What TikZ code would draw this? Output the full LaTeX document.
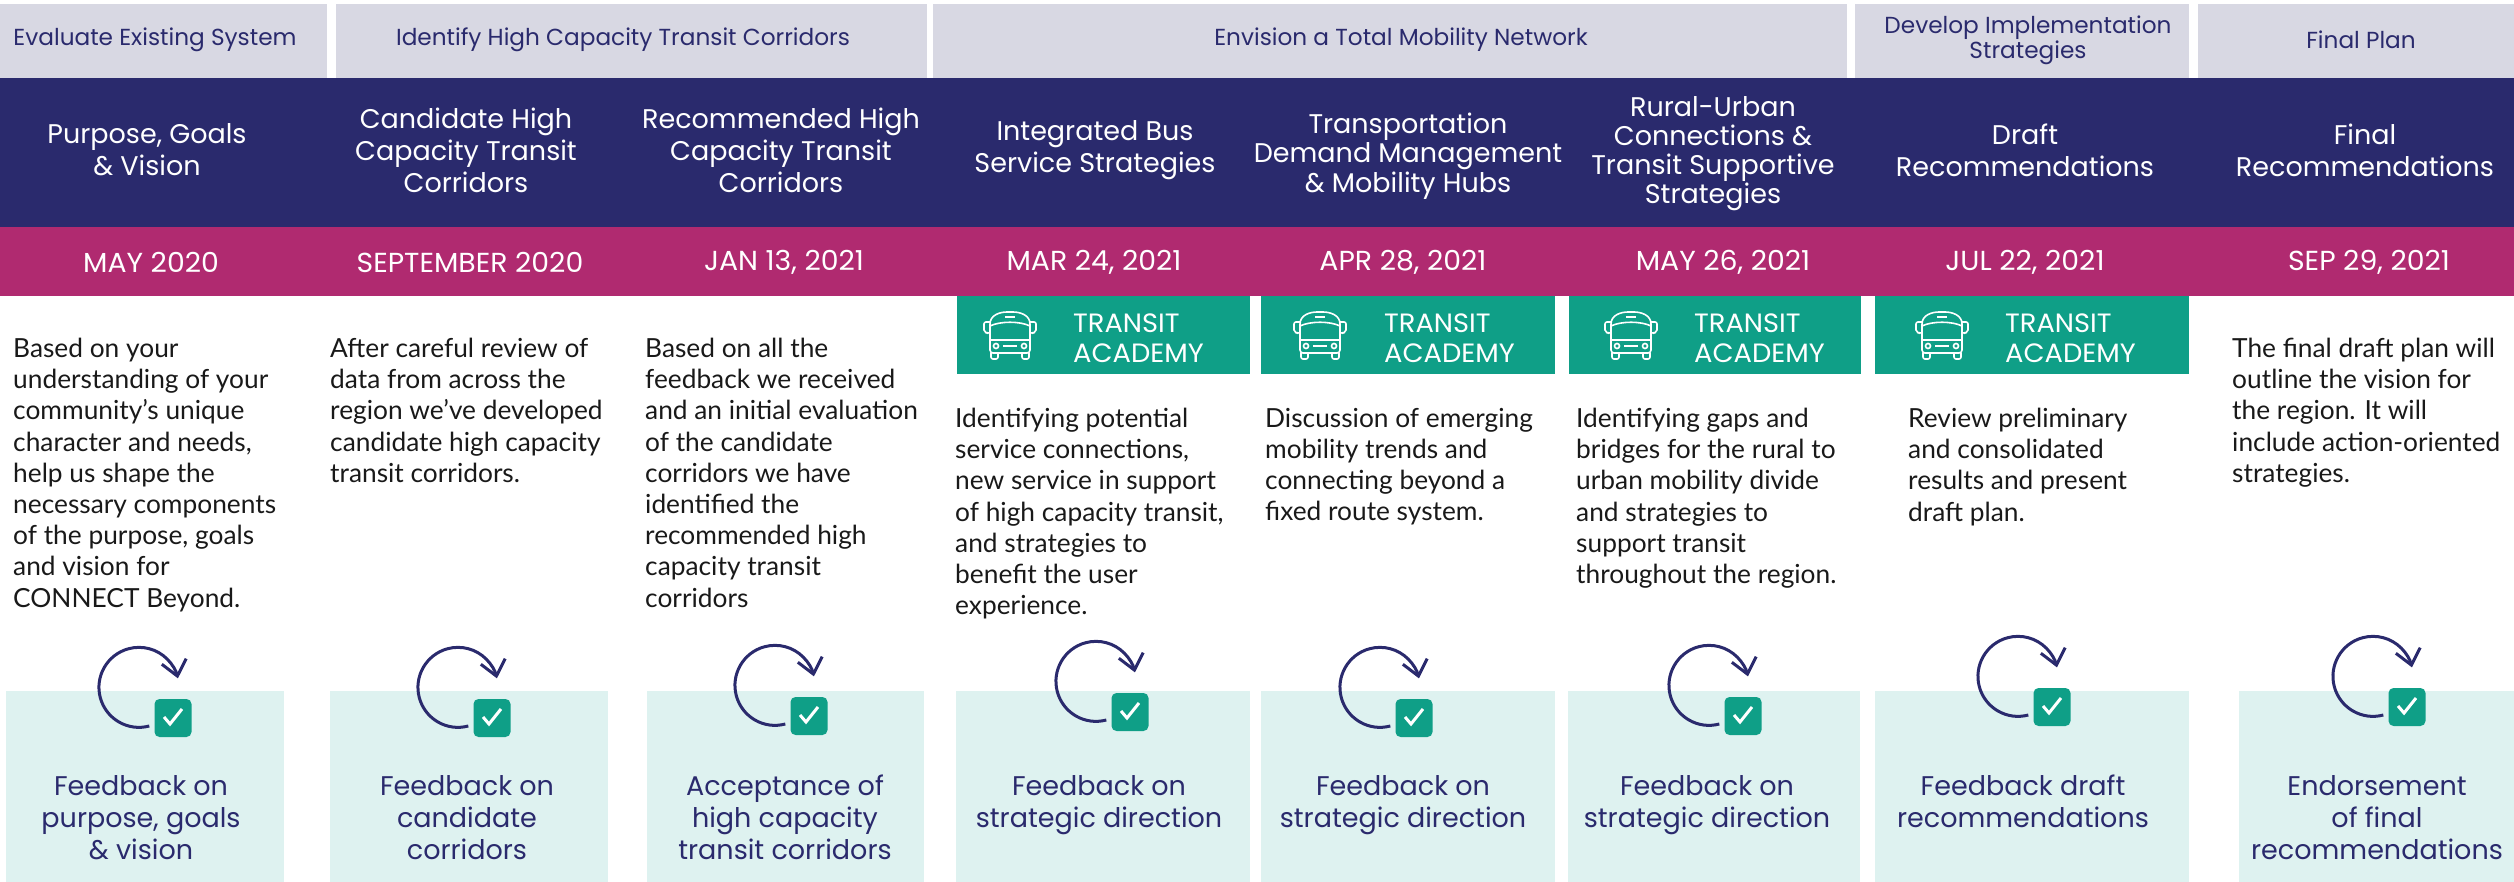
\documentclass[tikz,border=0pt]{standalone}
\usepackage{fontspec}
\setmainfont{Lato}
\newfontfamily\headfont{Poppins}
\newfontfamily\capsfont[FakeStretch=1.03]{Poppins}
\usetikzlibrary{arrows.meta}
\definecolor{navyband}{HTML}{2A2A6D}
\definecolor{magentaband}{HTML}{B02A70}
\definecolor{academygreen}{HTML}{0F9F87}
\definecolor{feedbackteal}{HTML}{DEF2F0}
\definecolor{phasegray}{HTML}{D8D8E3}
\tikzset{
    phasebox/.style={fill=phasegray,anchor=north west,minimum height=74pt,inner sep=0pt},
    phasetext/.style={text=navyband,inner sep=0pt,align=center,font=\headfont\fontsize{23.2}{23}\selectfont},
    topictext/.style={text=white,align=center,inner sep=0pt,font=\headfont\fontsize{27}{32}\selectfont},
    datetext/.style={text=white,inner sep=0pt,font=\capsfont\fontsize{27.5}{30}\selectfont},
    academybox/.style={fill=academygreen,anchor=north west,minimum height=78pt,inner sep=0pt},
    academytext/.style={text=white,anchor=west,inner sep=0pt,align=left,font=\capsfont\fontsize{26.5}{30}\selectfont},
    bodytext/.style={anchor=north west,inner sep=0pt,align=left,text=black!90,font=\fontsize{26.3}{31.2}\selectfont},
    feedbackbox/.style={fill=feedbackteal,anchor=north west,minimum height=191pt,inner sep=0pt},
    feedbacktext/.style={text=navyband,anchor=north,inner sep=0pt,align=center,font=\headfont\fontsize{27}{32}\selectfont},
    checkbox/.style={fill=academygreen,rounded corners=5pt,minimum width=37pt,minimum height=38pt,inner sep=0pt},
    looparrow/.style={draw=navyband,line width=3pt,-{Straight Barb[length=15pt,width=25pt,line width=3pt]}},
    businc/.style={draw=white,line width=1.6pt}
}
\newcommand{\BusIcon}[2]{%
    \begin{scope}[shift={(#1,#2)}]
        \draw[businc,rounded corners=3pt] (-20,18) -- (-20,-8) .. controls (-20,-20) and (-10,-23) .. (0,-23) .. controls (10,-23) and (20,-20) .. (20,-8) -- (20,18) -- cycle;
        \draw[businc] (-20,5) -- (20,5);
        \draw[businc] (-20,-9) .. controls (-10,-14) and (10,-14) .. (20,-9);
        \draw[businc] (-5,-18) -- (5,-18);
        \draw[businc] (-7,11) -- (7,11);
        \draw[businc] (-14,11) circle (2.5);
        \draw[businc] (14,11) circle (2.5);
        \draw[businc,rounded corners=2pt] (-20,-13) -- (-26,-13) -- (-26,-3) -- (-23,-2) -- (-20,-2);
        \draw[businc,rounded corners=2pt] (20,-13) -- (26,-13) -- (26,-3) -- (23,-2) -- (20,-2);
        \draw[businc,rounded corners=2pt] (-19,18) -- (-19,24) -- (-12,24) -- (-12,18);
        \draw[businc,rounded corners=2pt] (19,18) -- (19,24) -- (12,24) -- (12,18);
    \end{scope}%
}
\begin{document}
\begin{tikzpicture}[x=1pt,y=-1pt]
    \useasboundingbox (0,0) rectangle (2514,882);
    % phases
    \foreach \px/\pw/\nm in {0/327/A,336/591/B,933/914/C,1855/334/D,2198/316/E}{
        \node[phasebox,minimum width=\pw pt] (phase\nm) at (\px,4) {};
    }
    \node[phasetext] (phasetextA) at (155,40) {Evaluate Existing System};
    \node[phasetext] (phasetextB) at (623,40) {Identify High Capacity Transit Corridors};
    \node[phasetext] (phasetextC) at (1401,40) {Envision a Total Mobility Network};
    \node[phasetext] (phasetextD) at (2028,40) {Develop Implementation\\Strategies};
    \node[phasetext] (phasetextE) at (2361,40) {Final Plan};
    % bands
    \fill[navyband] (0,78) rectangle (2514,227);
    \fill[magentaband] (0,227) rectangle (2514,296);
    \node[topictext] (topicA) at (147,150) {Purpose, Goals\\\& Vision};
    \node[topictext] (topicB) at (466,150) {Candidate High\\Capacity Transit\\Corridors};
    \node[topictext] (topicC) at (781,150) {Recommended High\\Capacity Transit\\Corridors};
    \node[topictext] (topicD) at (1095,150) {Integrated Bus\\Service Strategies};
    \node[topictext,font=\headfont\fontsize{27}{29.5}\selectfont] (topicE) at (1408,156) {Transportation\\Demand Management\\\& Mobility Hubs};
    \node[topictext,font=\headfont\fontsize{27}{29}\selectfont] (topicF) at (1713,154) {Rural-Urban\\Connections \&\\Transit Supportive\\Strategies};
    \node[topictext] (topicG) at (2025,150) {Draft\\Recommendations};
    \node[topictext] (topicH) at (2365,150) {Final\\Recommendations};
    \node[datetext] (dateA) at (151,262) {MAY 2020};
    \node[datetext] (dateB) at (470,262) {SEPTEMBER 2020};
    \node[datetext] (dateC) at (784,262) {JAN 13, 2021};
    \node[datetext] (dateD) at (1094,262) {MAR 24, 2021};
    \node[datetext] (dateE) at (1403,262) {APR 28, 2021};
    \node[datetext] (dateF) at (1723,262) {MAY 26, 2021};
    \node[datetext] (dateG) at (2025,262) {JUL 22, 2021};
    \node[datetext] (dateH) at (2369,262) {SEP 29, 2021};
    % transit academy
    \foreach \ax/\aw/\bx/\tx/\nm in {957/293/1010/1073/D,1261/294/1320/1384/E,1569/292/1631/1694/F,1875/314/1942/2005/G}{
        \node[academybox,minimum width=\aw pt] (academy\nm) at (\ax,296) {};
        \BusIcon{\bx}{335}
        \node[academytext] (academytext\nm) at (\tx,338) {TRANSIT\\ACADEMY};
    }
    % descriptions
    \node[bodytext] (bodyA) at (13,338) {Based on your\\understanding of your\\community’s unique\\character and needs,\\help us shape the\\necessary components\\of the purpose, goals\\and vision for\\CONNECT Beyond.};
    \node[bodytext] (bodyB) at (330,338) {After careful review of\\data from across the\\region we’ve developed\\candidate high capacity\\transit corridors.};
    \node[bodytext] (bodyC) at (645,338) {Based on all the\\feedback we received\\and an initial evaluation\\of the candidate\\corridors we have\\identified the\\recommended high\\capacity transit\\corridors};
    \node[bodytext] (bodyD) at (955,408) {Identifying potential\\service connections,\\new service in support\\of high capacity transit,\\and strategies to\\benefit the user\\experience.};
    \node[bodytext] (bodyE) at (1265,408) {Discussion of emerging\\mobility trends and\\connecting beyond a\\fixed route system.};
    \node[bodytext] (bodyF) at (1576,408) {Identifying gaps and\\bridges for the rural to\\urban mobility divide\\and strategies to\\support transit\\throughout the region.};
    \node[bodytext] (bodyG) at (1908,408) {Review preliminary\\and consolidated\\results and present\\draft plan.};
    \node[bodytext] (bodyH) at (2232,338) {The final draft plan will\\outline the vision for\\the region. It will\\include action-oriented\\strategies.};
    % feedback boxes
    \foreach \fx/\fw/\nm in {6/278/A,330/278/B,647/277/C,956/294/D,1261/294/E,1568/292/F,1875/314/G,2239/275/H}{
        \node[feedbackbox,minimum width=\fw pt] (feedback\nm) at (\fx,691) {};
    }
    \node[feedbacktext] (fbtextA) at (141,775) {Feedback on\\purpose, goals\\\& vision};
    \node[feedbacktext] (fbtextB) at (467,775) {Feedback on\\candidate\\corridors};
    \node[feedbacktext] (fbtextC) at (785,775) {Acceptance of\\high capacity\\transit corridors};
    \node[feedbacktext] (fbtextD) at (1099,775) {Feedback on\\strategic direction};
    \node[feedbacktext] (fbtextE) at (1403,775) {Feedback on\\strategic direction};
    \node[feedbacktext] (fbtextF) at (1707,775) {Feedback on\\strategic direction};
    \node[feedbacktext] (fbtextG) at (2023,775) {Feedback draft\\recommendations};
    \node[feedbacktext] (fbtextH) at (2377,775) {Endorsement\\of final\\recommendations};
    % feedback loops
    \foreach \cx/\cy/\nm in {173/718/A,492/718/B,809/716/C,1130/712/D,1414/718/E,1743/716/F,2052/707/G,2407/707/H}{
        \node[checkbox] (check\nm) at (\cx,\cy) {};
        \draw[white,line width=3pt] ([xshift=-9pt,yshift=1pt]check\nm.center) -- ([xshift=-3pt,yshift=-6pt]check\nm.center) -- ([xshift=9pt,yshift=9pt]check\nm.center);
        \draw[looparrow] ([xshift=-5pt,yshift=-8pt]check\nm.west) arc[x radius=40pt,y radius=40pt,start angle=-75,end angle=-347];
    }
\end{tikzpicture}
\end{document}
